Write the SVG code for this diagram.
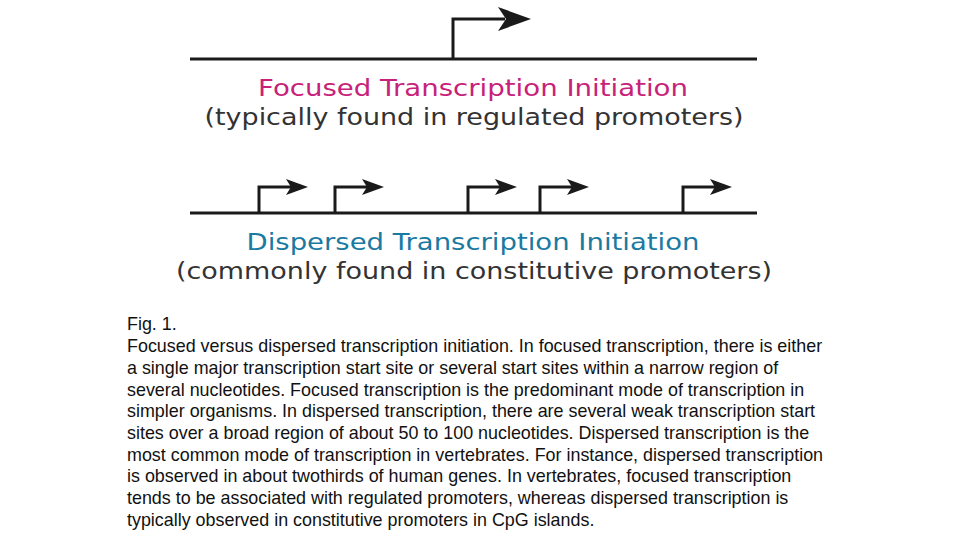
<svg xmlns="http://www.w3.org/2000/svg" width="960" height="540" viewBox="0 0 960 540">
<style>
.ln{stroke:#1a1a1a;stroke-width:3;fill:none}
.hd{fill:#1a1a1a}
.t{font-family:"DejaVu Sans",Verdana,sans-serif;font-size:23px;text-anchor:middle}
.c{font-family:"Liberation Sans",Arial,sans-serif;font-size:17.9px;fill:#111}
</style>
<rect width="960" height="540" fill="#fff"/>
<g id="focused">
<line class="ln" x1="190" y1="59" x2="757" y2="59"/>
<path class="ln" d="M453,59 V19 H505"/>
<path class="hd" d="M498,7 L531,19 L498,31 L506,19 z"/>
<text class="t" x="473" y="96" fill="#c8217a" textLength="430" lengthAdjust="spacingAndGlyphs">Focused Transcription Initiation</text>
<text class="t" x="474" y="125" fill="#333" textLength="539" lengthAdjust="spacingAndGlyphs">(typically found in regulated promoters)</text>
</g>
<g id="dispersed">
<line class="ln" x1="190" y1="213" x2="757" y2="213"/>
<g id="arrows">
<path class="ln" d="M259,213 V187 H292"/><path class="hd" d="M286,179 L308,187 L286,195 L291,187 z"/>
<path class="ln" d="M335,213 V187 H368"/><path class="hd" d="M362,179 L384,187 L362,195 L367,187 z"/>
<path class="ln" d="M468,213 V187 H501"/><path class="hd" d="M495,179 L517,187 L495,195 L500,187 z"/>
<path class="ln" d="M540,213 V187 H573"/><path class="hd" d="M567,179 L589,187 L567,195 L572,187 z"/>
<path class="ln" d="M683,213 V187 H716"/><path class="hd" d="M710,179 L732,187 L710,195 L715,187 z"/>
</g>
<text class="t" x="473" y="250" fill="#1b7aa2" textLength="453" lengthAdjust="spacingAndGlyphs">Dispersed Transcription Initiation</text>
<text class="t" x="474" y="279" fill="#333" textLength="596" lengthAdjust="spacingAndGlyphs">(commonly found in constitutive promoters)</text>
</g>
<g id="caption">
<text class="c" x="127" y="330">Fig. 1.</text>
<text class="c" x="127" y="352">Focused versus dispersed transcription initiation. In focused transcription, there is either</text>
<text class="c" x="127" y="374">a single major transcription start site or several start sites within a narrow region of</text>
<text class="c" x="127" y="396">several nucleotides. Focused transcription is the predominant mode of transcription in</text>
<text class="c" x="127" y="417">simpler organisms. In dispersed transcription, there are several weak transcription start</text>
<text class="c" x="127" y="439">sites over a broad region of about 50 to 100 nucleotides. Dispersed transcription is the</text>
<text class="c" x="127" y="461">most common mode of transcription in vertebrates. For instance, dispersed transcription</text>
<text class="c" x="127" y="482">is observed in about twothirds of human genes. In vertebrates, focused transcription</text>
<text class="c" x="127" y="504">tends to be associated with regulated promoters, whereas dispersed transcription is</text>
<text class="c" x="127" y="526">typically observed in constitutive promoters in CpG islands.</text>
</g>
</svg>
